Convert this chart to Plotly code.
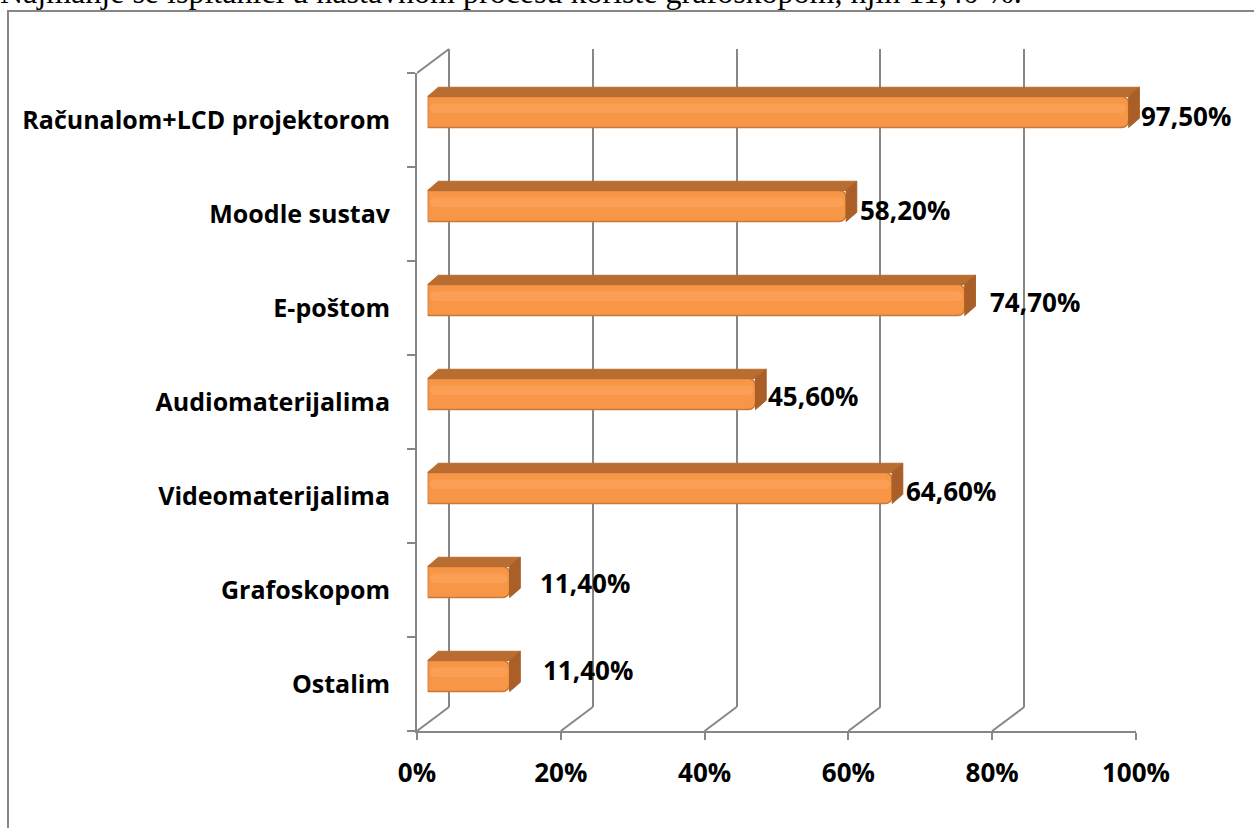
import plotly.graph_objects as go

categories = ["Računalom+LCD projektorom", "Moodle sustav", "E-poštom",
              "Audiomaterijalima", "Videomaterijalima", "Grafoskopom", "Ostalim"]
values = [97.5, 58.2, 74.7, 45.6, 64.6, 11.4, 11.4]
value_labels = ["97,50%", "58,20%", "74,70%", "45,60%", "64,60%", "11,40%", "11,40%"]
x_ticks = [0, 20, 40, 60, 80, 100]
x_tick_text = ["0%", "20%", "40%", "60%", "80%", "100%"]
caption = "Najmanje se ispitanici u nastavnom procesu koriste grafoskopom, njih 11,40 %."

W, H = 1254, 828
# front plane of the 3-D box (px) and its depth
FX0, FX1 = 417, 1136
FY0, FY1 = 73, 731
DX, DY = 32, 24
BAR_W = 0.33
label_gap = [0, 1, 13, 0, 1, 18, 21]
label_lift = [-4, -4, -2, -2, -3, -1, 6]

grey = "#878787"
orange = "#F79646"
top_c = "#BA6D31"
side_c = "#A95F27"
cat_font = dict(family="Open Sans", size=25, color="black", weight="bold")
num_font = dict(family="Open Sans", size=26, color="black", weight="bold")


def px_x(p):
    return p / W


def px_y(p):
    return 1 - p / H


n = len(categories)
pos = [n - 1 - i for i in range(n)]  # first category on top

# depth of a bar expressed in bar-axis units
ddx = (DX / 3) / (FX1 - FX0) * 100
ddy = (DY / 2.6) / ((FY1 - FY0) / n)

fig = go.Figure()

# back wall (grid only)
fig.add_trace(go.Scatter(x=[None], y=[None], xaxis="x", yaxis="y", hoverinfo="skip"))

# bars: front face
fig.add_trace(go.Bar(x=values, y=pos, orientation="h", width=BAR_W,
                     marker=dict(color=orange, line=dict(color="#C97838", width=1.5)),
                     xaxis="x2", yaxis="y2", hoverinfo="skip"))
# soft highlight on the front face
fig.add_trace(go.Bar(x=[v - 0.6 for v in values], y=[p + BAR_W * 0.12 for p in pos],
                     base=0.3, orientation="h", width=BAR_W * 0.3,
                     marker=dict(color="rgba(255,178,110,0.35)", line=dict(width=0)),
                     xaxis="x2", yaxis="y2", hoverinfo="skip"))

# bars: top and side faces
tx, ty, sx, sy = [], [], [], []
for v, p in zip(values, pos):
    t = p + BAR_W / 2
    b = p - BAR_W / 2
    tx += [0, v, v + ddx, ddx, 0, None]
    ty += [t, t, t + ddy, t + ddy, t, None]
    sx += [v, v + ddx, v + ddx, v, v, None]
    sy += [b, b + ddy, t + ddy, t, b, None]
fig.add_trace(go.Scatter(x=tx, y=ty, fill="toself", fillcolor=top_c, mode="lines",
                         line=dict(color=top_c, width=1), xaxis="x2", yaxis="y2",
                         hoverinfo="skip"))
fig.add_trace(go.Scatter(x=sx, y=sy, fill="toself", fillcolor=side_c, mode="lines",
                         line=dict(color=side_c, width=1), xaxis="x2", yaxis="y2",
                         hoverinfo="skip"))

# front axes (invisible trace carries the categories)
fig.add_trace(go.Bar(x=values, y=categories, orientation="h", opacity=0,
                     xaxis="x3", yaxis="y3", hoverinfo="skip"))

for i, (v, p) in enumerate(zip(values, pos)):
    fig.add_annotation(x=v + ddx, y=p, xref="x2", yref="y2", text=value_labels[i],
                       showarrow=False, xanchor="left", xshift=label_gap[i],
                       yshift=label_lift[i], font=num_font)

fig.add_annotation(x=0, y=px_y(12), xref="paper", yref="paper", text=caption,
                   showarrow=False, xanchor="left", yanchor="bottom", xshift=-2,
                   font=dict(family="Liberation Serif", size=32, color="black"))

shapes = [dict(type="rect", xref="paper", yref="paper", x0=px_x(8), x1=1.05,
               y0=-0.05, y1=px_y(11), line=dict(color=grey, width=2))]
for t in x_ticks:
    shapes.append(dict(type="line", xref="x3", xsizemode="pixel", xanchor=t, x0=0, x1=DX,
                       yref="paper", y0=px_y(FY1), y1=px_y(FY1 - DY),
                       line=dict(color=grey, width=2)))
shapes.append(dict(type="line", xref="x3", xsizemode="pixel", xanchor=0, x0=0, x1=DX,
                   yref="paper", y0=px_y(FY0), y1=px_y(FY0 - DY),
                   line=dict(color=grey, width=2)))

fig.update_layout(
    width=W, height=H, margin=dict(l=0, r=0, t=0, b=0, autoexpand=False),
    paper_bgcolor="white", plot_bgcolor="rgba(0,0,0,0)",
    showlegend=False, barcornerradius=7, barmode="overlay", shapes=shapes,
    xaxis=dict(domain=[px_x(FX0 + DX), px_x(FX1 + DX)], range=[0, 100], tick0=0, dtick=20,
               showgrid=True, gridcolor=grey, gridwidth=2, zeroline=True,
               zerolinecolor=grey, zerolinewidth=2, showticklabels=False, ticks="",
               showline=False, anchor="y", fixedrange=True, automargin=False),
    yaxis=dict(domain=[px_y(FY1 - DY), px_y(FY0 - DY)], range=[0, 1], visible=False,
               anchor="x", fixedrange=True, automargin=False),
    xaxis2=dict(domain=[px_x(FX0 + DX / 3), px_x(FX1 + DX / 3)], range=[0, 100],
                visible=False, anchor="y2", fixedrange=True, automargin=False),
    yaxis2=dict(domain=[px_y(FY1 - DY / 3), px_y(FY0 - DY / 3)], range=[-0.5, n - 0.5],
                visible=False, anchor="x2", fixedrange=True, automargin=False),
    xaxis3=dict(domain=[px_x(FX0), px_x(FX1)], range=[0, 100], tickmode="array",
                tickvals=x_ticks, ticktext=x_tick_text, showline=True, linecolor=grey,
                linewidth=2, ticks="outside", ticklen=7, tickwidth=2, tickcolor=grey,
                showgrid=False, zeroline=False, ticklabelstandoff=11, tickfont=num_font,
                anchor="y3", fixedrange=True, automargin=False),
    yaxis3=dict(domain=[px_y(FY1), px_y(FY0)], type="category",
                categoryorder="array", categoryarray=categories[::-1],
                range=[-0.5, n - 0.5], tickson="boundaries", ticks="outside",
                ticklen=8, tickwidth=2, tickcolor=grey, showline=True, linecolor=grey,
                linewidth=2, showgrid=False, ticklabelstandoff=20, tickfont=cat_font,
                anchor="x3", fixedrange=True, automargin=False),
)

fig.write_html("out.html", config={"displayModeBar": False},
               post_script="document.body.style.margin='0';")
